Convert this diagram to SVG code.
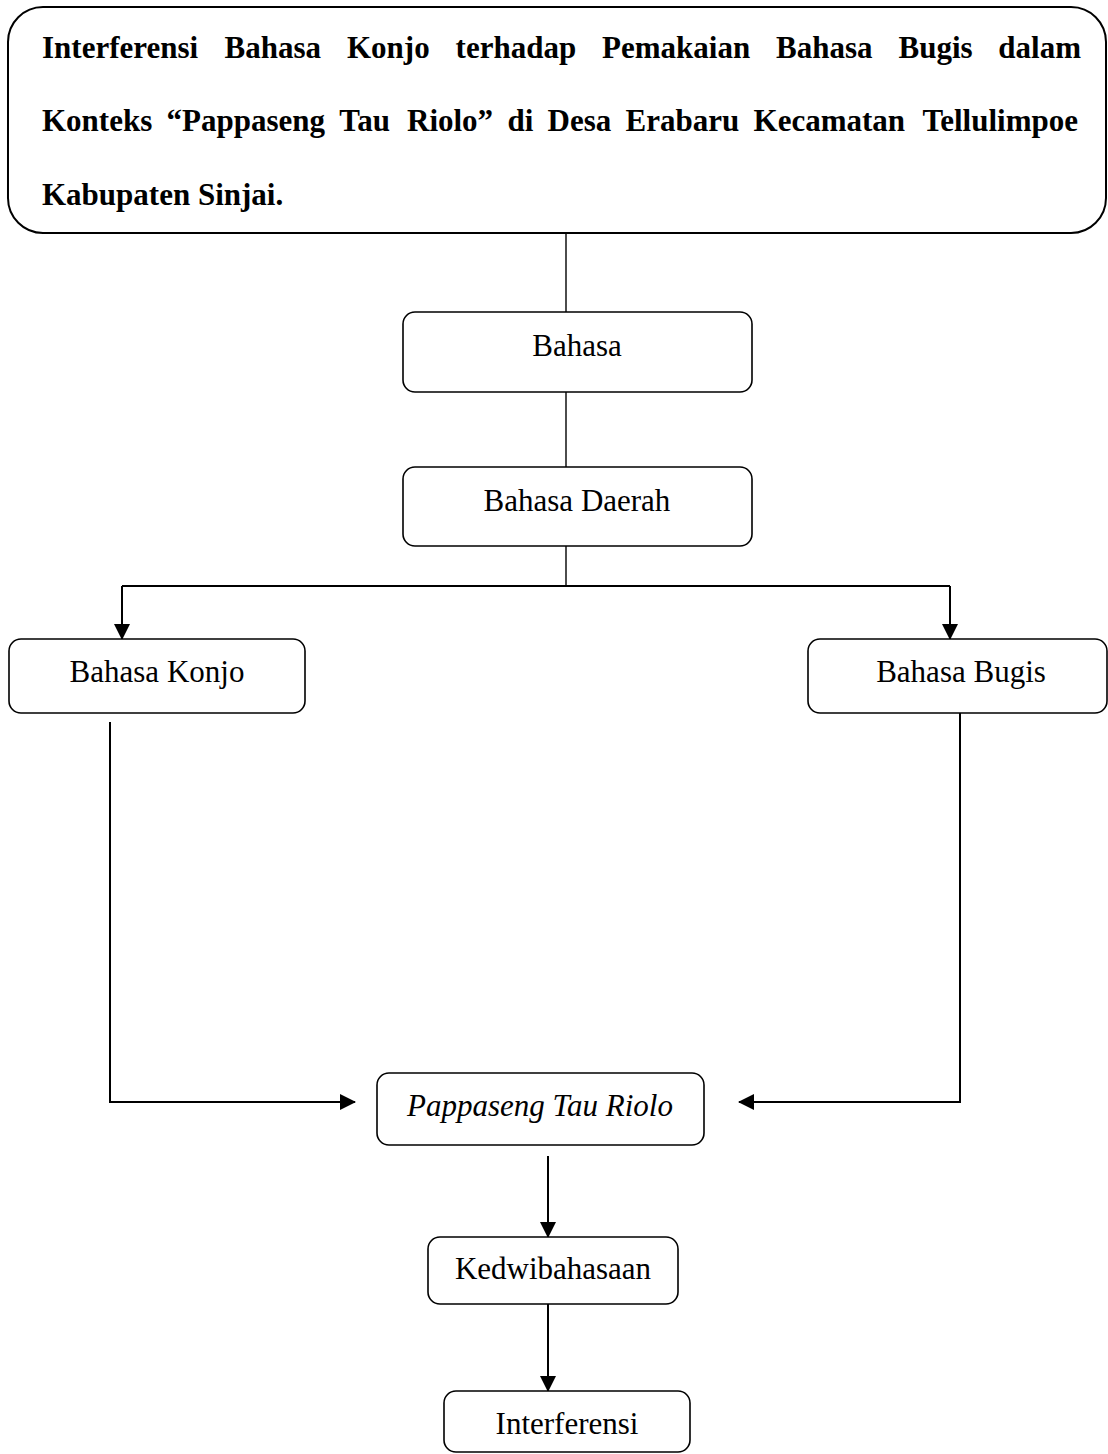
<svg xmlns="http://www.w3.org/2000/svg" width="1108" height="1454" viewBox="0 0 1108 1454">
<style>
  .box { fill: #fff; stroke: #000; stroke-width: 1.6; }
  .title { fill: #fff; stroke: #000; stroke-width: 2; }
  .lbl { font-family: "Liberation Serif", "Times New Roman", serif; font-size: 31px; fill: #000; text-anchor: middle; }
  .it { font-style: italic; }
  .tt { font-family: "Liberation Serif", "Times New Roman", serif; font-size: 31px; font-weight: bold; fill: #000; }
  .con { fill: none; stroke: #000; stroke-width: 2; }
  .thin { fill: none; stroke: #000; stroke-width: 1.4; }
</style>
<defs>
  <marker id="ah" markerUnits="userSpaceOnUse" markerWidth="16" markerHeight="16" refX="15" refY="8" orient="auto">
    <path d="M0,0 L16,8 L0,16 Z" fill="#000"/>
  </marker>
</defs>
<rect width="1108" height="1454" fill="#fff"/>

<g id="connectors">
  <line class="thin" x1="566" y1="233" x2="566" y2="312"/>
  <line class="thin" x1="566" y1="392" x2="566" y2="467"/>
  <line class="thin" x1="566" y1="546" x2="566" y2="586"/>
  <path class="con" d="M122,586 L950,586"/>
  <path class="con" d="M122,586 L122,639" marker-end="url(#ah)"/>
  <path class="con" d="M950,586 L950,639" marker-end="url(#ah)"/>
  <path class="con" d="M110,722 L110,1102 L355,1102" marker-end="url(#ah)"/>
  <path class="con" d="M960,713 L960,1102 L739,1102" marker-end="url(#ah)"/>
  <path class="con" d="M548,1156 L548,1237" marker-end="url(#ah)"/>
  <path class="con" d="M548,1304 L548,1391" marker-end="url(#ah)"/>
</g>

<g id="title">
  <rect class="title" x="8" y="7" width="1098" height="226" rx="35" ry="35"/>
  <text class="tt" y="58">
    <tspan x="42">Interferensi</tspan><tspan x="224.6">Bahasa</tspan><tspan x="347">Konjo</tspan><tspan x="455.6">terhadap</tspan><tspan x="602.1">Pemakaian</tspan><tspan x="776.1">Bahasa</tspan><tspan x="898.5">Bugis</tspan><tspan x="1081" text-anchor="end">dalam</tspan>
  </text>
  <text class="tt" y="131">
    <tspan x="42">Konteks</tspan><tspan x="166.5">“Pappaseng</tspan><tspan x="339.3">Tau</tspan><tspan x="407">Riolo”</tspan><tspan x="507.4">di</tspan><tspan x="547.6">Desa</tspan><tspan x="625.6">Erabaru</tspan><tspan x="753.6">Kecamatan</tspan><tspan x="1078" text-anchor="end">Tellulimpoe</tspan>
  </text>
  <text class="tt" x="42" y="205">Kabupaten Sinjai.</text>
</g>

<g id="bahasa">
  <rect class="box" x="403" y="312" width="349" height="80" rx="12"/>
  <text class="lbl" x="577" y="356">Bahasa</text>
</g>
<g id="bahasa-daerah">
  <rect class="box" x="403" y="467" width="349" height="79" rx="12"/>
  <text class="lbl" x="577" y="511">Bahasa Daerah</text>
</g>
<g id="bahasa-konjo">
  <rect class="box" x="9" y="639" width="296" height="74" rx="12"/>
  <text class="lbl" x="157" y="682">Bahasa Konjo</text>
</g>
<g id="bahasa-bugis">
  <rect class="box" x="808" y="639" width="299" height="74" rx="12"/>
  <text class="lbl" x="961" y="682">Bahasa Bugis</text>
</g>
<g id="pappaseng">
  <rect class="box" x="377" y="1073" width="327" height="72" rx="12"/>
  <text class="lbl it" x="540" y="1116">Pappaseng Tau Riolo</text>
</g>
<g id="kedwibahasaan">
  <rect class="box" x="428" y="1237" width="250" height="67" rx="12"/>
  <text class="lbl" x="553" y="1279">Kedwibahasaan</text>
</g>
<g id="interferensi">
  <rect class="box" x="444" y="1391" width="246" height="61" rx="12"/>
  <text class="lbl" x="567" y="1434">Interferensi</text>
</g>
</svg>
